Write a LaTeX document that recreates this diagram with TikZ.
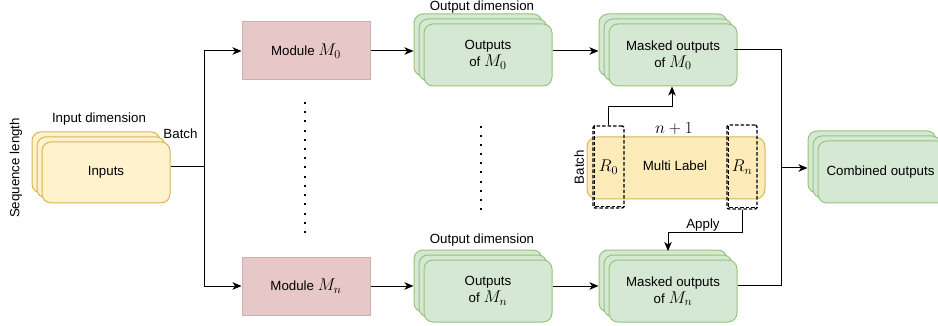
\RequirePackage{fix-cm}
\documentclass[tikz,border=0pt]{standalone}
\usepackage{fontspec}
\setmainfont{Liberation Sans}
\usetikzlibrary{arrows.meta,calc}
\definecolor{yfill}{HTML}{FFF2CC}
\definecolor{ydraw}{HTML}{D6B656}
\definecolor{mlfill}{HTML}{FDEBBA}
\definecolor{rfill}{HTML}{E8C7C9}
\definecolor{rdraw}{HTML}{D4ABAE}
\definecolor{gfill}{HTML}{D5E8D4}
\definecolor{gdraw}{HTML}{97C47A}
\newcommand\mystack[5]{%
  \node[#4] (#1b) at (#2-10,#3-10) {};
  \node[#4] (#1m) at (#2-5,#3-5) {};
  \node[#4] (#1) at (#2,#3) {#5};
}
\newcommand\mth[1]{{\fontsize{17}{17}\selectfont$#1$}}
\begin{document}
\begin{tikzpicture}[x=1pt,y=-1pt,
  font=\fontsize{13.3}{17}\selectfont,
  line width=1pt,
  arr/.style={-{Stealth[length=9pt,width=7.5pt,inset=2.5pt]}},
  ybox/.style={draw=ydraw,fill=yfill,rounded corners=9pt,minimum width=128pt,minimum height=61pt,inner sep=0pt,align=center},
  gbox/.style={draw=gdraw,fill=gfill,rounded corners=9pt,minimum width=128pt,minimum height=62pt,inner sep=0pt,align=center},
  modbox/.style={draw=rdraw,fill=rfill,minimum width=128pt,minimum height=58pt,inner sep=0pt},
  mlbox/.style={draw=ydraw,fill=mlfill,rounded corners=10pt,minimum width=178pt,minimum height=62pt,inner sep=0pt},
  dbox/.style={draw,dash pattern=on 3.5pt off 2pt,line width=1.4pt,rounded corners=2pt,inner sep=0pt},
  dline/.style={draw,dash pattern=on 3.5pt off 2pt,line width=1.4pt},
  lbl/.style={inner sep=0pt}
]
\useasboundingbox (0,0) rectangle (938,326);
\clip (0,0) rectangle (938,326);

% stacks
\mystack{inp}{106}{172.4}{ybox}{Inputs}
\mystack{om0}{488}{55}{gbox}{Outputs\\of \mth{M_0}}
\mystack{omn}{488}{291}{gbox}{Outputs\\of \mth{M_n}}
\mystack{mm0}{673}{55}{gbox}{Masked outputs\\of \mth{M_0}}
\mystack{mmn}{673}{291}{gbox}{Masked outputs\\of \mth{M_n}}
\mystack{cmb}{882}{172}{gbox}{}
\node[lbl] (cmbt) at (880.5,172) {Combined outputs};

% modules
\node[modbox] (m0) at (306,51) {Module \mth{M_0}};
\node[modbox] (mn) at (306,286) {Module \mth{M_n}};

% multi label
\node[mlbox] (ml) at (676,168) {};
\node[lbl] (mlt) at (675,166) {Multi Label};
\node[dbox,minimum width=31pt,minimum height=82pt] (r0) at (608.5,167) {\mth{R_0}};
\node[dbox,minimum width=30pt,minimum height=84pt] (rn) at (742,167) {\mth{R_n}};
\draw[dline] ($(r0.north west)+(2,0)$) -- ($(r0.south west)+(2,-2)$) -- ($(r0.south east)+(0,-2)$);
\draw[dline] ($(rn.north west)+(2,2)$) -- ($(rn.south west)+(2,-2)$) -- ($(rn.south east)+(0,-2)$);

% labels
\node[lbl] (indim) at (99,119) {Input dimension};
\node[lbl] (batch1) at (180.5,134) {Batch};
\node[lbl,rotate=90] (seql) at (16,168) {Sequence length};
\node[lbl] (od0) at (482,7) {Output dimension};
\node[lbl] (odn) at (482,240) {Output dimension};
\node[lbl] (np1) at (674,129) {\mth{n+1}};
\node[lbl,rotate=90] (batch2) at (579,167) {Batch};
\node[lbl] (apply) at (703,225) {Apply};

% coordinates
\coordinate (j) at (204,167);
\coordinate (jj) at (781,168);
\coordinate (mmnTop) at (668,251);

% connectors
\draw (inp.east |- j) -- (j);
\draw[arr] (j) |- (m0.west);
\draw[arr] (j) |- (mn.west);
\draw[arr] (m0.east) -- (m0.east -| om0b.west);
\draw[arr] (mn.east) -- (mn.east -| omnb.west);
\draw[arr] ($(om0.east)+(0,-4)$) -- ($(om0.east -| mm0b.west)+(0,-4)$);
\draw[arr] ($(omn.east)+(0,-5)$) -- ($(omn.east -| mmnb.west)+(0,-5)$);
\draw ($(mm0.east)+(-4,-5)$) -| (jj);
\draw ($(mmn.east)+(0,-6)$) -| (jj);
\draw[arr] (jj) -- (jj -| cmbb.west);
\draw[arr] (r0.north) -- ++(0,-19) -| ($(mm0.south)+(-1,0)$);
\draw[arr] (rn.south) -- ++(0,23) -| (mmnTop);

% dots
\foreach \i in {0,...,14} \fill (304,102+\i*9.21) rectangle ++(2,2);
\foreach \i in {0,...,9} \fill (480,126+\i*9.1) rectangle ++(2,2);
\end{tikzpicture}
\end{document}
